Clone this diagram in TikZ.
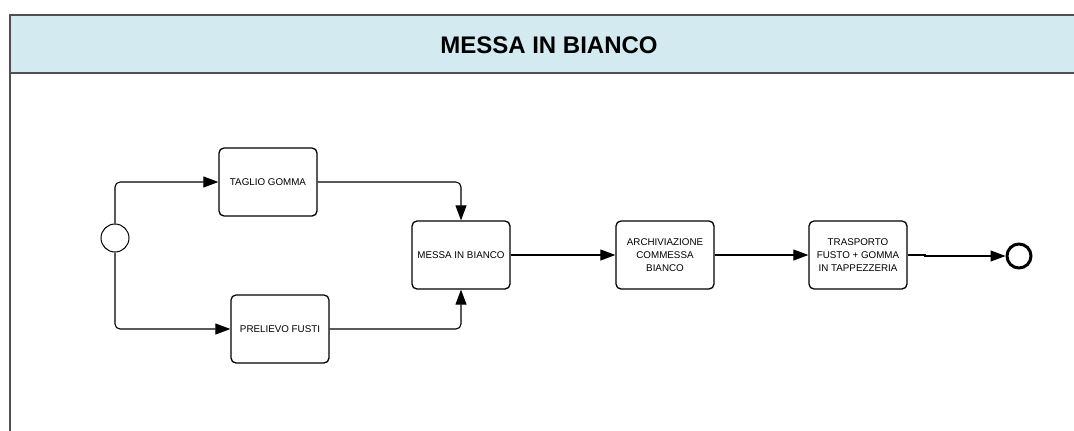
\documentclass[tikz,border=0pt]{standalone}
\usepackage{fontspec}
\setmainfont{Liberation Sans}
\usetikzlibrary{arrows.meta,positioning}
\definecolor{headblue}{HTML}{D2EAF0}
\definecolor{framegray}{HTML}{505050}
\tikzset{
  task/.style={draw=black, line width=1.3pt, rounded corners=5pt, fill=white,
    minimum width=98pt, minimum height=68pt, align=center,
    font=\fontsize{9.8}{13}\selectfont, inner sep=1pt},
  flow/.style={draw=black, line width=1.1pt, rounded corners=5pt,
    -{Triangle[length=15pt,width=11pt]}},
  startev/.style={circle, draw=black, line width=1pt, minimum size=28pt, inner sep=0pt},
  endev/.style={circle, draw=black, line width=3pt, minimum size=24pt, inner sep=0pt},
}
\begin{document}
\begin{tikzpicture}[x=1pt,y=1pt]
  \useasboundingbox (0,0) rectangle (1074,-431);
  % pool header and frame
  \fill[headblue] (10,-15) rectangle (1074,-73);
  \draw[framegray, line width=1.5pt] (1074,-15) -- (10,-15) -- (10,-431);
  \draw[framegray, line width=1.5pt] (10,-73) -- (1074,-73);
  \node[font=\fontsize{24}{28}\selectfont\bfseries] (title) at (549,-45) {MESSA IN BIANCO};

  % events and tasks
  \node[startev] (start) at (115,-238) {};
  \node[task] (taglio) at (268,-182) {TAGLIO GOMMA};
  \node[task] (prelievo) at (280,-329) {PRELIEVO FUSTI};
  \node[task] (messa) at (461,-255) {MESSA IN BIANCO};
  \node[task] (archiv) at (665,-255) {ARCHIVIAZIONE\\COMMESSA\\BIANCO};
  \node[task] (trasp) at (858,-255) {TRASPORTO\\FUSTO + GOMMA\\IN TAPPEZZERIA};
  \node[endev] (fine) at (1019,-256) {};

  % sequence flows
  \draw[flow] (start.north) |- (taglio.west);
  \draw[flow] (start.south) |- (prelievo.west);
  \draw[flow] (taglio.east) -| (messa.north);
  \draw[flow] (prelievo.east) -| (messa.south);
  \draw[flow] (messa.east) -- (archiv.west);
  \draw[flow] (archiv.east) -- (trasp.west);
  \coordinate (jog) at (925,-255);
  \draw[flow, rounded corners=0pt] (trasp.east) -- (jog) -- ++(0,-1) -- (fine.west);
\end{tikzpicture}
\end{document}
